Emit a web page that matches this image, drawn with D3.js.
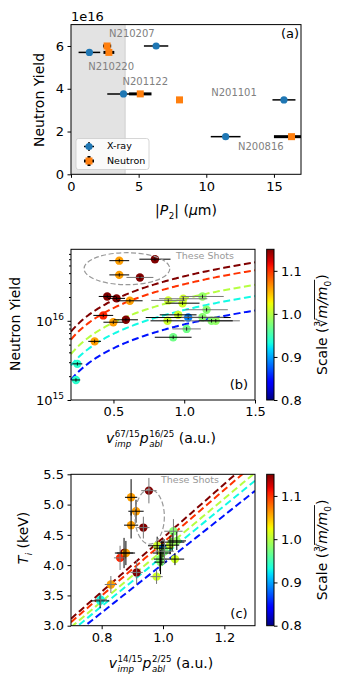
<!DOCTYPE html>
<html><head><meta charset="utf-8">
<script src="https://cdn.jsdelivr.net/npm/d3@7"></script>
<style>body{margin:0;background:#fff}svg{display:block;font-family:"DejaVu Sans",sans-serif}text{white-space:pre}</style>
</head><body><svg id="fig" width="341" height="685"></svg>
<script>
// ---------------- Panel (a) data ----------------
const aXTicks = [0, 5, 10, 15];
const aYTicks = [0, 2, 4, 6];
const aXrayP2 = [1.36, 6.29, 3.88, 15.74, 11.43];
const aXrayP2Err = [0.8, 0.9, 1.2, 0.85, 1.1];
const aXrayYield = [5.7, 6.0, 3.76, 3.48, 1.76];        // x 1e16
const aNeutP2 = [2.67, 2.80, 5.12, 8.02, 16.3];
const aNeutP2Err = [0.3, 0.4, 0.83, 0.15, 1.3];
const aNeutYield = [6.0, 5.7, 3.76, 3.48, 1.76];         // x 1e16
const aShotNames = ["N210207", "N210220", "N201122", "N201101", "N200816"];
const aShotNameX = [4.5, 2.97, 5.49, 12.05, 14.03];
const aShotNameY = [6.55, 5.02, 4.33, 3.82, 1.29];
const aShadeRange = [0, 4];

// ---------------- Panel (b) data ----------------
const bXTicks = [0.5, 1.0, 1.5];
const bYMajor = [1e15, 1e16];
const bX = [0.541, 0.793, 0.541, 0.687, 0.456, 0.522, 0.616, 0.428, 0.499, 0.588, 0.367, 0.245, 0.235,
            0.887, 0.993, 1.129, 0.988, 1.158, 0.957, 1.028, 1.129, 0.882, 1.193, 1.223, 1.017, 0.922];
const bXErr = [0.07, 0.11, 0.07, 0.095, 0.06, 0.06, 0.09, 0.07, 0.07, 0.085, 0.045, 0.035, 0.03,
               0.12, 0.17, 0.15, 0.12, 0.15, 0.13, 0.3, 0.15, 0.12, 0.2, 0.12, 0.1, 0.13];
const bYield = [5.75e16, 6.0e16, 3.8e16, 3.53e16, 2.03e16, 1.92e16, 1.79e16, 1.17e16, 9.6e15, 1.03e16, 5.5e15, 2.86e15, 1.79e15,
                1.81e16, 1.9e16, 2.03e16, 1.67e16, 1.38e16, 1.19e16, 1.1e16, 1.11e16, 1.0e16, 1.0e16, 1.0e16, 7.9e15, 6.2e15];
const bScale = [1.06, 1.15, 1.06, 1.15, 1.15, 1.15, 1.06, 1.105, 1.06, 1.15, 1.06, 0.94, 0.94,
                1.01, 1.01, 0.985, 1.01, 0.98, 1.01, 0.8875, 0.98, 1.01, 0.98, 0.985, 0.97, 0.97];
const bErrCol = ["k","k","k","g","k","k","k","k","k","k","k","k","k",
                 "g","g","g","k","g","k","k","g","k","g","k","g","k"];
const fitScale = [0.85, 0.93, 1.0, 1.1, 1.15];
const bFitCoef = [0.9e16, 1.37e16, 1.9e16, 2.9e16, 3.65e16];   // yield = c * x

// ---------------- Panel (c) data ----------------
const cXTicks = [0.8, 1.0, 1.2];
const cYTicks = [3.0, 3.5, 4.0, 4.5, 5.0, 5.5];
const cX = [0.954, 0.896, 0.912, 0.896, 0.936, 0.873, 0.860, 0.879, 0.914, 0.830, 0.795, 0.797,
            0.981, 1.000, 1.023, 1.034, 1.045, 0.996, 0.990, 1.039, 0.979, 0.992, 1.030, 1.005];
const cXErr = [0.025, 0.02, 0.025, 0.023, 0.02, 0.03, 0.02, 0.03, 0.02, 0.02, 0.03, 0.02,
               0.03, 0.03, 0.03, 0.03, 0.03, 0.03, 0.02, 0.03, 0.02, 0.02, 0.04, 0.03];
const cTi = [5.23, 5.12, 4.89, 4.66, 4.62, 4.20, 4.12, 4.20, 3.88, 3.68, 3.41, 3.43,
             4.32, 4.28, 4.33, 4.56, 4.40, 4.20, 4.10, 4.10, 3.81, 4.05, 4.38, 4.23];
const cTiErr = [0.21, 0.3, 0.19, 0.22, 0.18, 0.25, 0.2, 0.2, 0.2, 0.14, 0.12, 0.1,
                0.15, 0.15, 0.15, 0.2, 0.15, 0.2, 0.2, 0.1, 0.12, 0.2, 0.15, 0.2];
const cScale = [1.15, 1.06, 1.06, 1.06, 1.15, 1.15, 1.105, 1.06, 1.15, 1.06, 0.94, 0.93,
                1.01, 0.8875, 1.01, 0.98, 0.985, 1.01, 0.98, 1.01, 1.01, 0.98, 0.99, 0.975];
const cErrCol = ["g","k","k","k","g","k","g","k","g","g","k","g",
                 "k","k","k","g","k","k","k","k","g","k","k","g"];
const cFitCoef = [4.02, 4.15, 4.25, 4.37, 4.45];   // Ti = c * x
const cbTicks = [0.8, 0.9, 1.0, 1.1];
const cbRange = [0.8, 1.15];

// ---------------- helpers ----------------
const svg = d3.select("#fig");
const FONT = 13;
const jr = d3.scaleLinear([0, .35, .66, .89, 1], [0, 0, 1, 1, .5]).clamp(true);
const jg = d3.scaleLinear([0, .125, .375, .64, .91, 1], [0, 0, 1, 1, 0, 0]).clamp(true);
const jb = d3.scaleLinear([0, .11, .34, .65, 1], [.5, 1, 1, 0, 0]).clamp(true);
function jet(t) { return d3.rgb(255 * jr(t), 255 * jg(t), 255 * jb(t)).formatHex(); }
const cmap = s => jet((s - cbRange[0]) / (cbRange[1] - cbRange[0]));
const errColor = c => c === "k" ? "#000" : "#777";

// math-like label builder: items [{t, it, sup, sub, subIt}]
function mathLabel(parent, items, size) {
  const g = parent.append("g");
  const inner = g.append("g");
  let x = 0;
  const ss = size * 0.62;
  items.forEach(it => {
    const base = inner.append("text").attr("x", x).attr("y", 0).attr("font-size", size)
      .attr("font-style", it.it ? "italic" : null).text(it.t);
    let w = base.node().getComputedTextLength();
    let extra = 0;
    if (it.sup) {
      const s = inner.append("text").attr("x", x + w + 0.5).attr("y", -size * 0.45).attr("font-size", ss).text(it.sup);
      extra = Math.max(extra, s.node().getComputedTextLength() + 0.5);
    }
    if (it.sub) {
      const s = inner.append("text").attr("x", x + w + 0.5).attr("y", size * 0.3).attr("font-size", ss)
        .attr("font-style", it.subIt ? "italic" : null).text(it.sub);
      extra = Math.max(extra, s.node().getComputedTextLength() + 0.5);
    }
    x += w + extra;
  });
  inner.attr("transform", `translate(${-x / 2},${size * 0.36})`);
  return {g, width: x, inner};
}

function frame(x0, x1, y0, y1) {
  svg.append("rect").attr("x", x0).attr("y", y0).attr("width", x1 - x0).attr("height", y1 - y0)
    .attr("fill", "none").attr("stroke", "#000").attr("stroke-width", 1);
}
function styleAxis(g) {
  g.select(".domain").remove();
  g.selectAll("text").attr("font-size", FONT).attr("font-family", "DejaVu Sans").attr("fill", "#000");
  g.selectAll("line").attr("stroke", "#000");
}

// ================= Panel (a) =================
const xA = d3.scaleLinear([0, 17], [71, 301]);
const yA = d3.scaleLinear([0, 7], [174.3, 24.6]);
const gA = svg.append("g");
gA.append("rect").attr("x", xA(aShadeRange[0])).attr("y", 24.6).attr("width", xA(aShadeRange[1]) - xA(aShadeRange[0]))
  .attr("height", 174.3 - 24.6).attr("fill", "#e3e3e3");
gA.append("line").attr("x1", xA(aShadeRange[1])).attr("x2", xA(aShadeRange[1])).attr("y1", 24.6).attr("y2", 174.3)
  .attr("stroke", "#cfcfcf").attr("stroke-width", 1);

aShotNames.forEach((n, i) => {
  gA.append("text").attr("x", xA(aShotNameX[i])).attr("y", yA(aShotNameY[i])).attr("text-anchor", "middle")
    .attr("dominant-baseline", "middle").attr("font-size", 10).attr("fill", "#808080").text(n);
});
aXrayP2.forEach((v, i) => {
  gA.append("line").attr("x1", xA(v - aXrayP2Err[i])).attr("x2", xA(v + aXrayP2Err[i]))
    .attr("y1", yA(aXrayYield[i])).attr("y2", yA(aXrayYield[i])).attr("stroke", "#000").attr("stroke-width", 1.5);
});
aNeutP2.forEach((v, i) => {
  gA.append("line").attr("x1", xA(v - aNeutP2Err[i])).attr("x2", Math.min(301, xA(v + aNeutP2Err[i])))
    .attr("y1", yA(aNeutYield[i])).attr("y2", yA(aNeutYield[i])).attr("stroke", "#000").attr("stroke-width", 3);
});
aXrayP2.forEach((v, i) => {
  gA.append("circle").attr("cx", xA(v)).attr("cy", yA(aXrayYield[i])).attr("r", 3.6).attr("fill", "#1f77b4");
});
aNeutP2.forEach((v, i) => {
  gA.append("rect").attr("x", xA(v) - 3.5).attr("y", yA(aNeutYield[i]) - 3.5).attr("width", 7).attr("height", 7)
    .attr("fill", "#ff7f0e");
});
frame(71, 301, 24.6, 174.3);
styleAxis(svg.append("g").attr("transform", "translate(0,174.3)")
  .call(d3.axisBottom(xA).tickValues(aXTicks).tickSize(3.5).tickPadding(3.5).tickFormat(d3.format("d"))));
styleAxis(svg.append("g").attr("transform", "translate(71,0)")
  .call(d3.axisLeft(yA).tickValues(aYTicks).tickSize(3.5).tickPadding(3.5).tickFormat(d3.format("d"))));
svg.append("text").attr("x", 71).attr("y", 20.5).attr("font-size", FONT).text("1e16");
svg.append("text").attr("x", 290).attr("y", 38).attr("text-anchor", "middle").attr("font-size", FONT).text("(a)");
const lg = svg.append("g");
lg.append("rect").attr("x", 76).attr("y", 138.5).attr("width", 73).attr("height", 31).attr("rx", 2.5)
  .attr("fill", "#fff").attr("fill-opacity", 0.8).attr("stroke", "#cccccc").attr("stroke-width", 0.8);
lg.append("line").attr("x1", 84).attr("x2", 94).attr("y1", 146.5).attr("y2", 146.5).attr("stroke", "#000").attr("stroke-width", 1.5);
lg.append("line").attr("x1", 89).attr("x2", 89).attr("y1", 142).attr("y2", 151).attr("stroke", "#000").attr("stroke-width", 1.5);
lg.append("circle").attr("cx", 89).attr("cy", 146.5).attr("r", 3.6).attr("fill", "#1f77b4");
lg.append("line").attr("x1", 84).attr("x2", 94).attr("y1", 161).attr("y2", 161).attr("stroke", "#000").attr("stroke-width", 3);
lg.append("line").attr("x1", 89).attr("x2", 89).attr("y1", 156).attr("y2", 166).attr("stroke", "#000").attr("stroke-width", 3);
lg.append("rect").attr("x", 85.5).attr("y", 157.5).attr("width", 7).attr("height", 7).attr("fill", "#ff7f0e");
lg.append("text").attr("x", 107).attr("y", 146.5).attr("dominant-baseline", "middle").attr("font-size", 9.5).text("X-ray");
lg.append("text").attr("x", 107).attr("y", 161).attr("dominant-baseline", "middle").attr("font-size", 9.5).text("Neutron");
{
  const l = mathLabel(svg, [{t: "|"}, {t: "P", it: true, sub: "2"}, {t: "|\u00a0("}, {t: "\u03bc", it: true}, {t: "m)"}], 14);
  l.g.attr("transform", "translate(186,210)");
  const yl = mathLabel(svg, [{t: "Neutron Yield"}], 14);
  yl.g.attr("transform", "translate(39,100) rotate(-90)");
}

// ================= colorbar helper =================
const defs = svg.append("defs");
const grad = defs.append("linearGradient").attr("id", "jetg").attr("x1", 0).attr("y1", 1).attr("x2", 0).attr("y2", 0);
d3.range(0, 1.0001, 0.02).forEach(t => grad.append("stop").attr("offset", t).attr("stop-color", jet(t)));
function colorbar(y0, y1) {
  const x0 = 266.7, x1 = 274;
  const sc = d3.scaleLinear(cbRange, [y1, y0]);
  svg.append("rect").attr("x", x0).attr("y", y0).attr("width", x1 - x0).attr("height", y1 - y0).attr("fill", "url(#jetg)")
    .attr("stroke", "#000").attr("stroke-width", 1);
  styleAxis(svg.append("g").attr("transform", `translate(${x1},0)`)
    .call(d3.axisRight(sc).tickValues(cbTicks).tickSize(3.5).tickPadding(3.5).tickFormat(d3.format(".1f"))));
  const g = svg.append("g").attr("transform", `translate(321.5,${(y0 + y1) / 2}) rotate(-90)`);
  const inner = g.append("g");
  let x = 0;
  const t1 = inner.append("text").attr("x", x).attr("font-size", 14).text("Scale\u00a0(");
  x += t1.node().getComputedTextLength();
  const t2 = inner.append("text").attr("x", x).attr("font-size", 14).text("\u221b");
  x += t2.node().getComputedTextLength();
  const ox = x;
  const t3 = inner.append("text").attr("x", x).attr("font-size", 14).attr("font-style", "italic").text("m/m");
  x += t3.node().getComputedTextLength();
  const t4 = inner.append("text").attr("x", x).attr("y", 4).attr("font-size", 9).text("0");
  x += t4.node().getComputedTextLength() + 1;
  inner.append("line").attr("x1", ox - 1).attr("x2", x).attr("y1", -12).attr("y2", -12).attr("stroke", "#000").attr("stroke-width", 0.9);
  const t5 = inner.append("text").attr("x", x).attr("font-size", 14).text(")");
  x += t5.node().getComputedTextLength();
  inner.attr("transform", `translate(${-x / 2},5)`);
}

// ================= Panel (b) =================
const xB = d3.scaleLinear([0.2, 1.5], [71, 255]);
const yB = d3.scaleLog([1e15, 8e16], [400, 249.3]);
const gB = svg.append("g");
const dens = d3.range(0.2, 1.5001, 0.01);
fitScale.forEach((s, i) => {
  gB.append("path").attr("d", d3.line().x(d => xB(d)).y(d => yB(bFitCoef[i] * d))(dens))
    .attr("fill", "none").attr("stroke", cmap(s)).attr("stroke-width", 2).attr("stroke-dasharray", "7,3.5");
});
bX.forEach((v, i) => {
  gB.append("circle").attr("cx", xB(v)).attr("cy", yB(bYield[i])).attr("r", 4.2).attr("fill", cmap(bScale[i]));
});
bX.forEach((v, i) => {
  const y = yB(bYield[i]);
  gB.append("line").attr("x1", xB(v - bXErr[i])).attr("x2", xB(v + bXErr[i])).attr("y1", y).attr("y2", y)
    .attr("stroke", errColor(bErrCol[i])).attr("stroke-width", 1);
  gB.append("line").attr("x1", xB(v)).attr("x2", xB(v)).attr("y1", y - 1.8).attr("y2", y + 1.8)
    .attr("stroke", "#000").attr("stroke-width", 0.8);
});
gB.append("ellipse").attr("cx", xB(0.595)).attr("cy", yB(4.55e16)).attr("rx", xB(0.595 + 0.303) - xB(0.595))
  .attr("ry", 16).attr("fill", "none").attr("stroke", "#999").attr("stroke-width", 1.2).attr("stroke-dasharray", "5,2.5");
gB.append("text").attr("x", 176).attr("y", 256).attr("dominant-baseline", "middle").attr("font-size", 9.5)
  .attr("fill", "#999").text("These Shots");
frame(71, 255, 249.3, 400);
styleAxis(svg.append("g").attr("transform", "translate(0,400)")
  .call(d3.axisBottom(xB).tickValues(bXTicks).tickSize(3.5).tickPadding(3.5).tickFormat(d3.format(".1f"))));
{
  const minor = [2e15, 3e15, 4e15, 5e15, 6e15, 7e15, 8e15, 9e15, 2e16, 3e16, 4e16, 5e16, 6e16, 7e16];
  styleAxis(svg.append("g").attr("transform", "translate(71,0)")
    .call(d3.axisLeft(yB).tickValues(minor).tickSize(2).tickFormat("")));
  styleAxis(svg.append("g").attr("transform", "translate(71,0)")
    .call(d3.axisLeft(yB).tickValues(bYMajor).tickSize(3.5).tickFormat("")));
  bYMajor.forEach(v => {
    const t = svg.append("text").attr("x", 64).attr("y", yB(v) + 5).attr("text-anchor", "end").attr("font-size", FONT);
    t.append("tspan").text("10");
    t.append("tspan").attr("dy", -6).attr("font-size", 9).text(String(Math.round(Math.log10(v))));
  });
}
{
  const l = mathLabel(svg, [{t: "v", it: true, sup: "67/15", sub: "imp", subIt: true}, {t: "p", it: true, sup: "16/25", sub: "abl", subIt: true}, {t: "\u00a0(a.u.)"}], 14);
  l.g.attr("transform", "translate(161,438)");
  const yl = mathLabel(svg, [{t: "Neutron Yield"}], 14);
  yl.g.attr("transform", "translate(15,324) rotate(-90)");
}
svg.append("text").attr("x", 239).attr("y", 385).attr("text-anchor", "middle").attr("dominant-baseline", "middle")
  .attr("font-size", FONT).text("(b)");
colorbar(249.3, 400);

// ================= Panel (c) =================
const xC = d3.scaleLinear([0.7, 1.3], [71, 255]);
const yC = d3.scaleLinear([3, 5.5], [625.7, 474.3]);
const gC = svg.append("g");
svg.append("clipPath").attr("id", "clipC").append("rect").attr("x", 71).attr("y", 474.3).attr("width", 184).attr("height", 151.4);
const gCl = gC.append("g").attr("clip-path", "url(#clipC)");
const denc = d3.range(0.7, 1.3001, 0.01);
fitScale.forEach((s, i) => {
  gCl.append("path").attr("d", d3.line().x(d => xC(d)).y(d => yC(cFitCoef[i] * d))(denc))
    .attr("fill", "none").attr("stroke", cmap(s)).attr("stroke-width", 2).attr("stroke-dasharray", "7,3.5");
});
cX.forEach((v, i) => {
  gCl.append("circle").attr("cx", xC(v)).attr("cy", yC(cTi[i])).attr("r", 4.2).attr("fill", cmap(cScale[i]));
});
cX.forEach((v, i) => {
  const x = xC(v), y = yC(cTi[i]);
  gCl.append("line").attr("x1", xC(v - cXErr[i])).attr("x2", xC(v + cXErr[i])).attr("y1", y).attr("y2", y)
    .attr("stroke", errColor(cErrCol[i])).attr("stroke-width", 1);
  gCl.append("line").attr("x1", x).attr("x2", x).attr("y1", yC(cTi[i] - cTiErr[i])).attr("y2", yC(cTi[i] + cTiErr[i]))
    .attr("stroke", errColor(cErrCol[i])).attr("stroke-width", 1);
});
gC.append("ellipse").attr("cx", xC(0.9565)).attr("cy", yC(4.80)).attr("rx", 14.7).attr("ry", 27.5)
  .attr("fill", "none").attr("stroke", "#999").attr("stroke-width", 1.2).attr("stroke-dasharray", "5,2.5");
gC.append("text").attr("x", 161).attr("y", 480).attr("dominant-baseline", "middle").attr("font-size", 9.5)
  .attr("fill", "#999").text("These Shots");
frame(71, 255, 474.3, 625.7);
styleAxis(svg.append("g").attr("transform", "translate(0,625.7)")
  .call(d3.axisBottom(xC).tickValues(cXTicks).tickSize(3.5).tickPadding(3.5).tickFormat(d3.format(".1f"))));
styleAxis(svg.append("g").attr("transform", "translate(71,0)")
  .call(d3.axisLeft(yC).tickValues(cYTicks).tickSize(3.5).tickPadding(3.5).tickFormat(d3.format(".1f"))));
{
  const l = mathLabel(svg, [{t: "v", it: true, sup: "14/15", sub: "imp", subIt: true}, {t: "p", it: true, sup: "2/25", sub: "abl", subIt: true}, {t: "\u00a0(a.u.)"}], 14);
  l.g.attr("transform", "translate(161,663)");
  const yl = mathLabel(svg, [{t: "T", it: true, sub: "i", subIt: true}, {t: "\u00a0(keV)"}], 14);
  yl.g.attr("transform", "translate(23,538) rotate(-90)");
}
svg.append("text").attr("x", 239).attr("y", 614).attr("text-anchor", "middle").attr("dominant-baseline", "middle")
  .attr("font-size", FONT).text("(c)");
colorbar(474.3, 625.7);
</script></body></html>
